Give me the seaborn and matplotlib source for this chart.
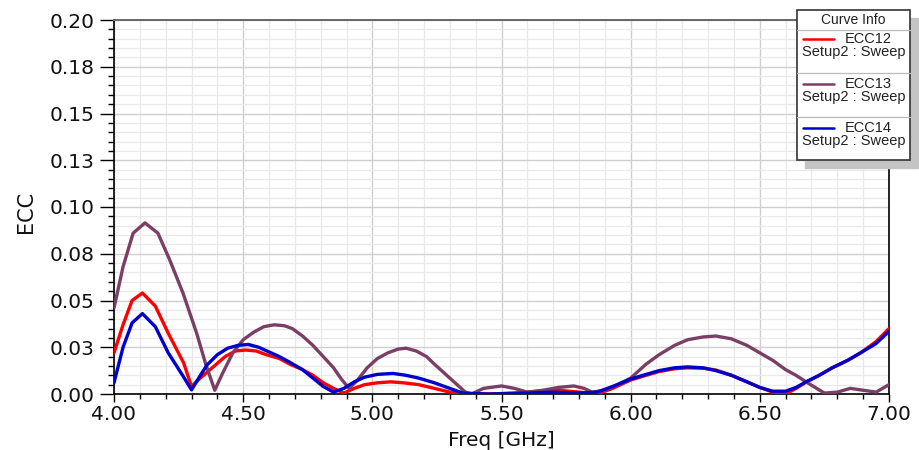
import pandas as pd
import matplotlib.pyplot as plt
from matplotlib.patches import Rectangle
from matplotlib.ticker import MultipleLocator
import seaborn as sns

# ECC curves (Freq in GHz)
freq12 = [4.00, 4.035, 4.07, 4.11, 4.16, 4.21, 4.27, 4.30, 4.33, 4.38, 4.43, 4.47, 4.51, 4.55,
          4.59, 4.64, 4.68, 4.73, 4.77, 4.81, 4.85, 4.89, 4.93, 4.97, 5.02, 5.07, 5.12, 5.18,
          5.24, 5.30, 5.35, 5.45, 5.55, 5.65, 5.72, 5.80, 5.87, 5.93, 6.00, 6.06, 6.11, 6.17,
          6.22, 6.28, 6.33, 6.39, 6.45, 6.50, 6.55, 6.60, 6.64, 6.68, 6.73, 6.78, 6.84, 6.89,
          6.95, 7.00]
ecc12 = [0.022, 0.037, 0.050, 0.054, 0.047, 0.0325, 0.0165, 0.004, 0.008, 0.014, 0.020, 0.023,
         0.0235, 0.023, 0.021, 0.019, 0.016, 0.013, 0.010, 0.006, 0.003, 0.0005, 0.003, 0.005,
         0.006, 0.0065, 0.006, 0.005, 0.003, 0.001, 0.0, 0.0, 0.0005, 0.0015, 0.002, 0.001, 0.0,
         0.003, 0.0075, 0.010, 0.012, 0.0135, 0.014, 0.0138, 0.0128, 0.010, 0.0065, 0.0035,
         0.001, 0.0, 0.003, 0.0064, 0.010, 0.014, 0.018, 0.022, 0.028, 0.035]

freq13 = [4.00, 4.035, 4.074, 4.12, 4.17, 4.216, 4.267, 4.32, 4.355, 4.39, 4.42, 4.46, 4.50,
          4.54, 4.58, 4.62, 4.66, 4.69, 4.73, 4.77, 4.81, 4.85, 4.88, 4.91, 4.94, 4.98, 5.02,
          5.06, 5.10, 5.13, 5.17, 5.21, 5.24, 5.28, 5.32, 5.36, 5.385, 5.43, 5.50, 5.55, 5.60,
          5.66, 5.72, 5.78, 5.82, 5.85, 5.90, 5.95, 6.00, 6.06, 6.11, 6.17, 6.22, 6.28, 6.33,
          6.39, 6.45, 6.50, 6.55, 6.60, 6.64, 6.68, 6.72, 6.75, 6.80, 6.85, 6.90, 6.95, 7.00]
ecc13 = [0.046, 0.068, 0.086, 0.0915, 0.086, 0.0716, 0.054, 0.0325, 0.016, 0.002, 0.011, 0.022,
         0.029, 0.033, 0.036, 0.037, 0.0365, 0.035, 0.031, 0.026, 0.020, 0.014, 0.008, 0.003,
         0.007, 0.014, 0.019, 0.022, 0.024, 0.0245, 0.023, 0.020, 0.016, 0.011, 0.006, 0.001,
         0.0, 0.003, 0.0043, 0.003, 0.001, 0.002, 0.0035, 0.0043, 0.003, 0.001, 0.002, 0.005,
         0.0085, 0.016, 0.021, 0.026, 0.029, 0.0305, 0.031, 0.0295, 0.026, 0.022, 0.018, 0.013,
         0.010, 0.0064, 0.003, 0.0005, 0.001, 0.003, 0.002, 0.001, 0.005]

freq14 = [4.00, 4.035, 4.07, 4.11, 4.16, 4.21, 4.27, 4.30, 4.33, 4.36, 4.40, 4.44, 4.48, 4.52,
          4.56, 4.60, 4.64, 4.68, 4.73, 4.77, 4.81, 4.85, 4.89, 4.93, 4.97, 5.02, 5.08, 5.13,
          5.18, 5.24, 5.30, 5.35, 5.45, 5.60, 5.70, 5.80, 5.87, 5.93, 6.00, 6.06, 6.11, 6.17,
          6.22, 6.28, 6.33, 6.39, 6.45, 6.50, 6.55, 6.60, 6.64, 6.68, 6.73, 6.78, 6.84, 6.89,
          6.95, 7.00]
ecc14 = [0.006, 0.025, 0.038, 0.043, 0.036, 0.022, 0.009, 0.0022, 0.009, 0.0155, 0.021, 0.0245,
         0.026, 0.0265, 0.025, 0.0225, 0.020, 0.017, 0.013, 0.0085, 0.004, 0.001, 0.003, 0.0065,
         0.009, 0.0105, 0.011, 0.010, 0.0085, 0.006, 0.003, 0.0005, 0.0, 0.0005, 0.001, 0.0005,
         0.001, 0.004, 0.008, 0.0105, 0.0125, 0.014, 0.0145, 0.014, 0.0125, 0.010, 0.0065,
         0.0035, 0.0015, 0.0015, 0.0035, 0.0066, 0.010, 0.014, 0.018, 0.022, 0.027, 0.0335]

series_names = ["ECC12", "ECC13", "ECC14"]
colors = ["#ff0000", "#7b3f66", "#0000cc"]
yticks = [0.0, 0.025, 0.05, 0.075, 0.10, 0.125, 0.15, 0.175, 0.20]
ytick_labels = ["0.00", "0.03", "0.05", "0.08", "0.10", "0.13", "0.15", "0.18", "0.20"]
xticks = [4.0, 4.5, 5.0, 5.5, 6.0, 6.5, 7.0]
xtick_labels = ["4.00", "4.50", "5.00", "5.50", "6.00", "6.50", "7.00"]

frames = []
for name, f, v in zip(series_names, [freq12, freq13, freq14], [ecc12, ecc13, ecc14]):
    frames.append(pd.DataFrame({"Freq": f, "ECC": v, "Curve": name}))
data = pd.concat(frames, ignore_index=True)

sns.set_style("white")
plt.rcParams["font.family"] = ["DejaVu Sans"]

fig = plt.figure(figsize=(9.2, 4.5), dpi=100)
ax = fig.add_axes([114 / 920, 1 - 394 / 450, (889 - 114) / 920, (394 - 20) / 450])

sns.lineplot(data=data, x="Freq", y="ECC", hue="Curve", hue_order=series_names,
             palette=colors, linewidth=2.4, legend=False, sort=False, ax=ax, zorder=3)

ax.set_xlim(4.0, 7.0)
ax.set_ylim(0.0, 0.20)
ax.set_xticks(xticks)
ax.set_xticklabels(xtick_labels)
ax.set_yticks(yticks)
ax.set_yticklabels(ytick_labels)
ax.xaxis.set_minor_locator(MultipleLocator(0.1))
ax.yaxis.set_minor_locator(MultipleLocator(0.005))

ax.grid(which="major", color="#cfcfcf", linewidth=1.0, zorder=0)
ax.grid(which="minor", color="#e9e9e9", linewidth=0.9, zorder=0)
ax.set_axisbelow(True)

ax.tick_params(axis="y", which="major", direction="out", length=10, width=1, pad=4,
               labelsize=14.5, left=True, color="black", labelcolor="#111111")
ax.tick_params(axis="y", which="minor", direction="out", length=4.5, width=1, left=True,
               color="black")
ax.tick_params(axis="x", which="major", direction="out", length=6, width=1, pad=2,
               labelsize=14.5, bottom=True, color="black", labelcolor="#111111")
ax.tick_params(axis="x", which="minor", direction="out", length=3.5, width=1, bottom=True,
               color="black")

for side in ["left", "bottom", "right"]:
    ax.spines[side].set_color("black")
    ax.spines[side].set_linewidth(1.2)
ax.spines["top"].set_color("#666666")
ax.spines["top"].set_linewidth(1.4)

ax.set_xlabel("Freq [GHz]", fontsize=14.5, color="#111111", va="center")
ax.xaxis.set_label_coords(0.5, -0.125)
ax.set_ylabel("ECC", fontsize=15, color="#111111", va="center", ha="center")
ax.yaxis.set_label_coords(-0.114, 0.487)

# Curve Info box
W, H = 920, 450
box = fig.add_axes([0, 0, 1, 1], facecolor="none")
box.set_xlim(0, W)
box.set_ylim(H, 0)
box.axis("off")
x0, x1, y0, y1 = 797, 910, 10, 160
legend_font = ["Liberation Sans", "DejaVu Sans"]
box.add_patch(Rectangle((x0 + 8, y0 + 8), x1 - x0, y1 - y0, color="#c4c4c4", zorder=1))
box.add_patch(Rectangle((x0, y0), x1 - x0, y1 - y0, facecolor="white", edgecolor="#333333",
                        linewidth=1.2, zorder=2))
box.text((x0 + x1) / 2, 20, "Curve Info", ha="center", va="center", fontsize=10,
         color="#222222", family=legend_font, zorder=3)
for yy in [30, 73, 117]:
    box.plot([x0, x1], [yy, yy], color="#bbbbbb", linewidth=0.9, zorder=3)
for i, (name, c) in enumerate(zip(series_names, colors)):
    yl = 39 + i * 44.5
    box.plot([803, 834], [yl, yl], color=c, linewidth=1.8, zorder=3)
    box.text(845, yl, name, ha="left", va="center", fontsize=10.5, color="#222222",
             family=legend_font, zorder=3)
    box.text(802, yl + 13, "Setup2 : Sweep", ha="left", va="center", fontsize=10.5,
             color="#222222", family=legend_font, zorder=3)

plt.savefig("out.png", dpi=100)
plt.close()
